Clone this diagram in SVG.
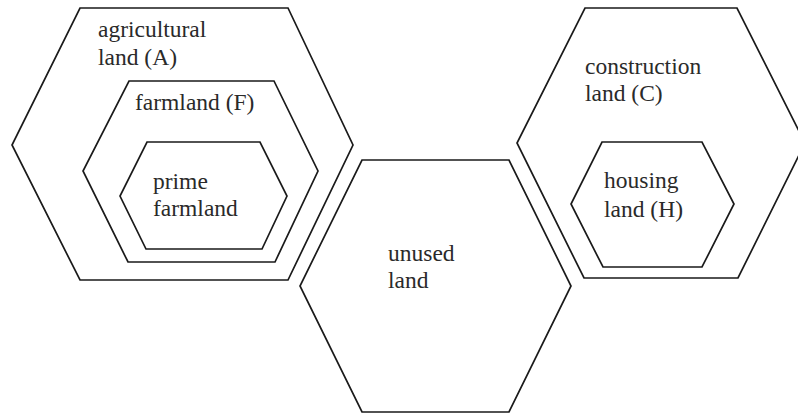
<svg xmlns="http://www.w3.org/2000/svg" width="798" height="415" viewBox="0 0 798 415">
<style>
.hex{fill:none;stroke:#1a1a1a;stroke-width:1.7;stroke-linejoin:miter}
.t{font-family:'Liberation Serif','Times New Roman',Times,serif;font-size:23.5px;fill:#2a2a2a}
</style>
<rect width="798" height="415" fill="#ffffff"/>
<g id="agricultural-land">
<polygon class="hex" points="80,8 288,8 353,145 288,280 80,280 12,145"/>
<text class="t" x="98" y="37">agricultural</text>
<text class="t" x="98" y="65">land (A)</text>
</g>
<g id="farmland">
<polygon class="hex" points="129,81 274,81 318,171 275,262 128,262 83,171"/>
<text class="t" x="135" y="110">farmland (F)</text>
</g>
<g id="prime-farmland">
<polygon class="hex" points="147,142 260,142 287,196 262,249 146,249 120,196"/>
<text class="t" x="153" y="189">prime</text>
<text class="t" x="153" y="216">farmland</text>
</g>
<g id="unused-land">
<polygon class="hex" points="362,160 509,160 571,286 509,412 362,412 300,286"/>
<text class="t" x="388" y="261">unused</text>
<text class="t" x="388" y="288">land</text>
</g>
<g id="construction-land">
<polygon class="hex" points="585,8 737,8 805,143 738,278 584,278 517,143"/>
<text class="t" x="585" y="74">construction</text>
<text class="t" x="585" y="101">land (C)</text>
</g>
<g id="housing-land">
<polygon class="hex" points="602,142 702,142 734,204 702,267 603,267 571,204"/>
<text class="t" x="604" y="188">housing</text>
<text class="t" x="604" y="217">land (H)</text>
</g>
<g id="connectors"></g>
</svg>
